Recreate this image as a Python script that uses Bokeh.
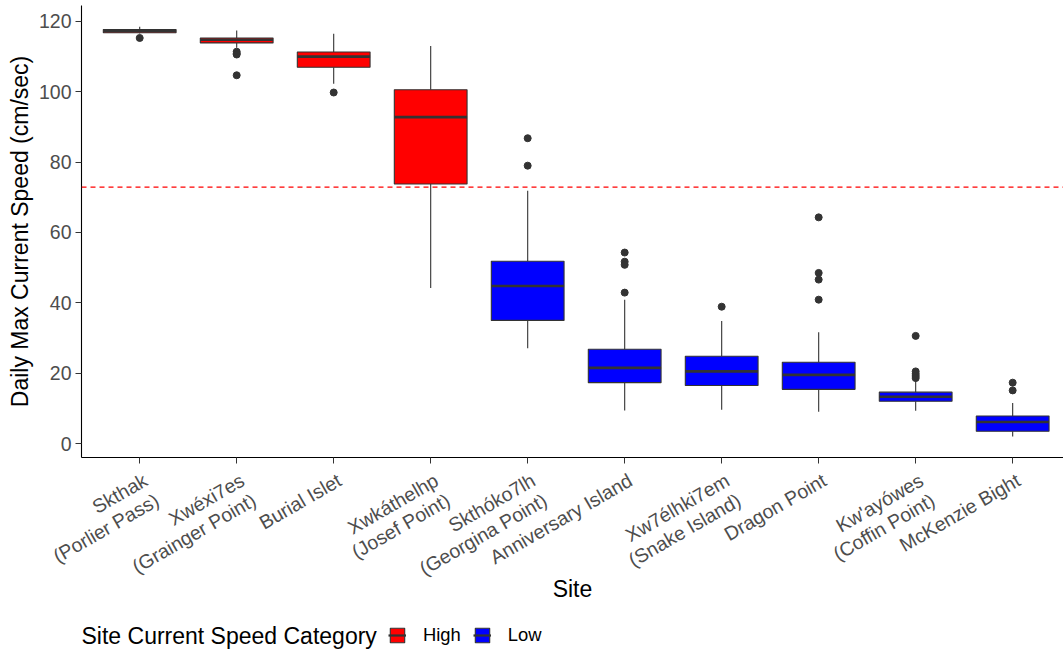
import math
from bokeh.plotting import figure
from bokeh.layouts import column
from bokeh.models import Span, Legend, LegendItem, Label, FixedTicker, Range1d, ColumnDataSource
from bokeh.embed import file_html
from bokeh.resources import INLINE

# ---------------- data ----------------
sites = [
    "Skthak\n(Porlier Pass)",
    "Xwéxi7es\n(Grainger Point)",
    "Burial Islet",
    "Xwkáthelhp\n(Josef Point)",
    "Skthóko7lh\n(Georgina Point)",
    "Anniversary Island",
    "Xw7élhki7em\n(Snake Island)",
    "Dragon Point",
    "Kw'ayówes\n(Coffin Point)",
    "McKenzie Bight",
]
category = ["High", "High", "High", "High", "Low", "Low", "Low", "Low", "Low", "Low"]
lower_whisker = [116.6, 112.5, 102.3, 44.2, 27.1, 9.4, 9.6, 9.0, 9.3, 2.0]
q1 = [116.8, 113.9, 107.0, 73.8, 35.0, 17.3, 16.5, 15.4, 12.0, 3.5]
median = [117.3, 114.8, 110.0, 92.8, 44.8, 21.5, 20.5, 19.5, 13.3, 6.1]
q3 = [117.7, 115.3, 111.3, 100.6, 51.8, 26.8, 24.8, 23.1, 14.6, 7.8]
upper_whisker = [118.5, 117.4, 116.5, 113.0, 71.9, 40.9, 34.8, 31.6, 17.9, 11.5]
outlier_site = [0, 1, 1, 1, 1, 2, 4, 4, 5, 5, 5, 5, 6, 7, 7, 7, 7, 8, 8, 8, 8, 8, 9, 9]
outlier_value = [115.3, 111.4, 110.9, 110.6, 104.7, 99.8, 86.8, 79.0, 54.3, 51.7, 50.8, 42.9,
                 38.9, 64.3, 48.5, 46.6, 40.9, 30.6, 20.5, 19.8, 19.2, 18.6, 17.3, 15.1]
threshold = 72.9
y_ticks = [0, 20, 40, 60, 80, 100, 120]
categories = ["High", "Low"]
colors = {"High": "#FF0000", "Low": "#0000FF"}

FONT = "Liberation Sans"
BOXW = 0.75
EDGE = "#333333"
TICK_FS = "19.5px"

xs = list(range(1, len(sites) + 1))
sources = {}
for cat in categories:
    idx = [i for i, c in enumerate(category) if c == cat]
    sources[cat] = ColumnDataSource(dict(
        x=[xs[i] for i in idx],
        top=[q3[i] for i in idx],
        bottom=[q1[i] for i in idx],
        med=[median[i] for i in idx],
        x0=[xs[i] - BOXW / 2 for i in idx],
        x1=[xs[i] + BOXW / 2 for i in idx],
    ))

# ---------------- main figure ----------------
p = figure(width=1063, height=620, output_backend="svg", toolbar_location=None,
           x_range=Range1d(0.4, 10.524), y_range=Range1d(-3.98, 124.54),
           min_border_left=81, min_border_right=0, min_border_top=5, min_border_bottom=163)
p.outline_line_color = None
p.xgrid.visible = False
p.ygrid.visible = False

# whiskers
p.segment(x0=xs, x1=xs, y0=q3, y1=upper_whisker, line_color=EDGE, line_width=1.1)
p.segment(x0=xs, x1=xs, y0=q1, y1=lower_whisker, line_color=EDGE, line_width=1.1)

for cat in categories:
    p.vbar(x="x", top="top", bottom="bottom", width=BOXW, source=sources[cat],
           fill_color=colors[cat], line_color=EDGE, line_width=1.1)
    p.segment(x0="x0", x1="x1", y0="med", y1="med", source=sources[cat],
              line_color=EDGE, line_width=2.6)

# outliers
p.scatter(x=[xs[i] for i in outlier_site], y=outlier_value, size=7,
          fill_color=EDGE, line_color=EDGE)

# threshold line
p.add_layout(Span(location=threshold, dimension="width", line_color="#FF0000",
                  line_dash="5 4", line_width=1.1))

# ---------------- axes ----------------
def tick_text(s):
    # leading empty lines so the rotated block hangs from its top-right corner
    n = s.count("\n") + 1
    return "\n" * n + s

xa = p.xaxis[0]
xa.ticker = FixedTicker(ticks=xs)
xa.major_label_overrides = {x: tick_text(s) for x, s in zip(xs, sites)}
xa.major_label_orientation = math.pi / 6
xa.minor_tick_line_color = None
xa.major_tick_in = 0
xa.major_tick_out = 6
xa.major_tick_line_color = EDGE
xa.axis_line_color = "black"
xa.axis_line_width = 1.1
xa.major_label_text_font = FONT
xa.major_label_text_font_size = TICK_FS
xa.major_label_text_color = "#4D4D4D"
xa.major_label_text_line_height = 1.05
xa.major_label_standoff = 5
xa.axis_label = "Site"
xa.axis_label_text_font = FONT
xa.axis_label_text_font_size = "23px"
xa.axis_label_text_font_style = "normal"
xa.axis_label_text_color = "black"
xa.axis_label_standoff = -46

ya = p.yaxis[0]
ya.ticker = FixedTicker(ticks=y_ticks)
ya.minor_tick_line_color = None
ya.major_tick_in = 0
ya.major_tick_out = 6
ya.major_tick_line_color = EDGE
ya.axis_line_color = "black"
ya.axis_line_width = 1.1
ya.major_label_text_font = FONT
ya.major_label_text_font_size = TICK_FS
ya.major_label_text_color = "#4D4D4D"
ya.major_label_standoff = 4
ya.axis_label = "Daily Max Current Speed (cm/sec)"
ya.axis_label_text_font = FONT
ya.axis_label_text_font_size = "23px"
ya.axis_label_text_font_style = "normal"
ya.axis_label_text_color = "black"
ya.axis_label_standoff = 3

# ---------------- legend strip ----------------
q = figure(width=1063, height=29, output_backend="svg", toolbar_location=None,
           x_range=Range1d(-1000, -999), y_range=Range1d(-1000, -999),
           x_axis_location=None, y_axis_location=None,
           min_border_left=81, min_border_right=0, min_border_top=0, min_border_bottom=0)
q.outline_line_color = None
q.grid.visible = False

items = []
for cat in categories:
    rb = q.vbar(x="x", top="top", bottom="bottom", width=BOXW, source=sources[cat],
                fill_color=colors[cat], line_color=EDGE, line_width=1.1)
    rm = q.segment(x0="x0", x1="x1", y0="med", y1="med", source=sources[cat],
                   line_color=EDGE, line_width=2.2)
    items.append(LegendItem(label=cat, renderers=[rb, rm]))

legend = Legend(items=items, orientation="horizontal", location=(307, 3),
                glyph_width=18, glyph_height=18, label_standoff=17, spacing=12,
                padding=0, margin=0, label_height=18,
                label_text_font=FONT, label_text_font_size="18.4px", label_text_color="black",
                background_fill_alpha=0, border_line_alpha=0)
q.add_layout(legend, "center")
q.add_layout(Label(x=0, y=14, x_units="screen", y_units="screen",
                   text="Site Current Speed Category", text_font=FONT,
                   text_font_size="23px", text_baseline="middle", text_color="black"))

open("out.html", "w").write(file_html(column(p, q), INLINE))
